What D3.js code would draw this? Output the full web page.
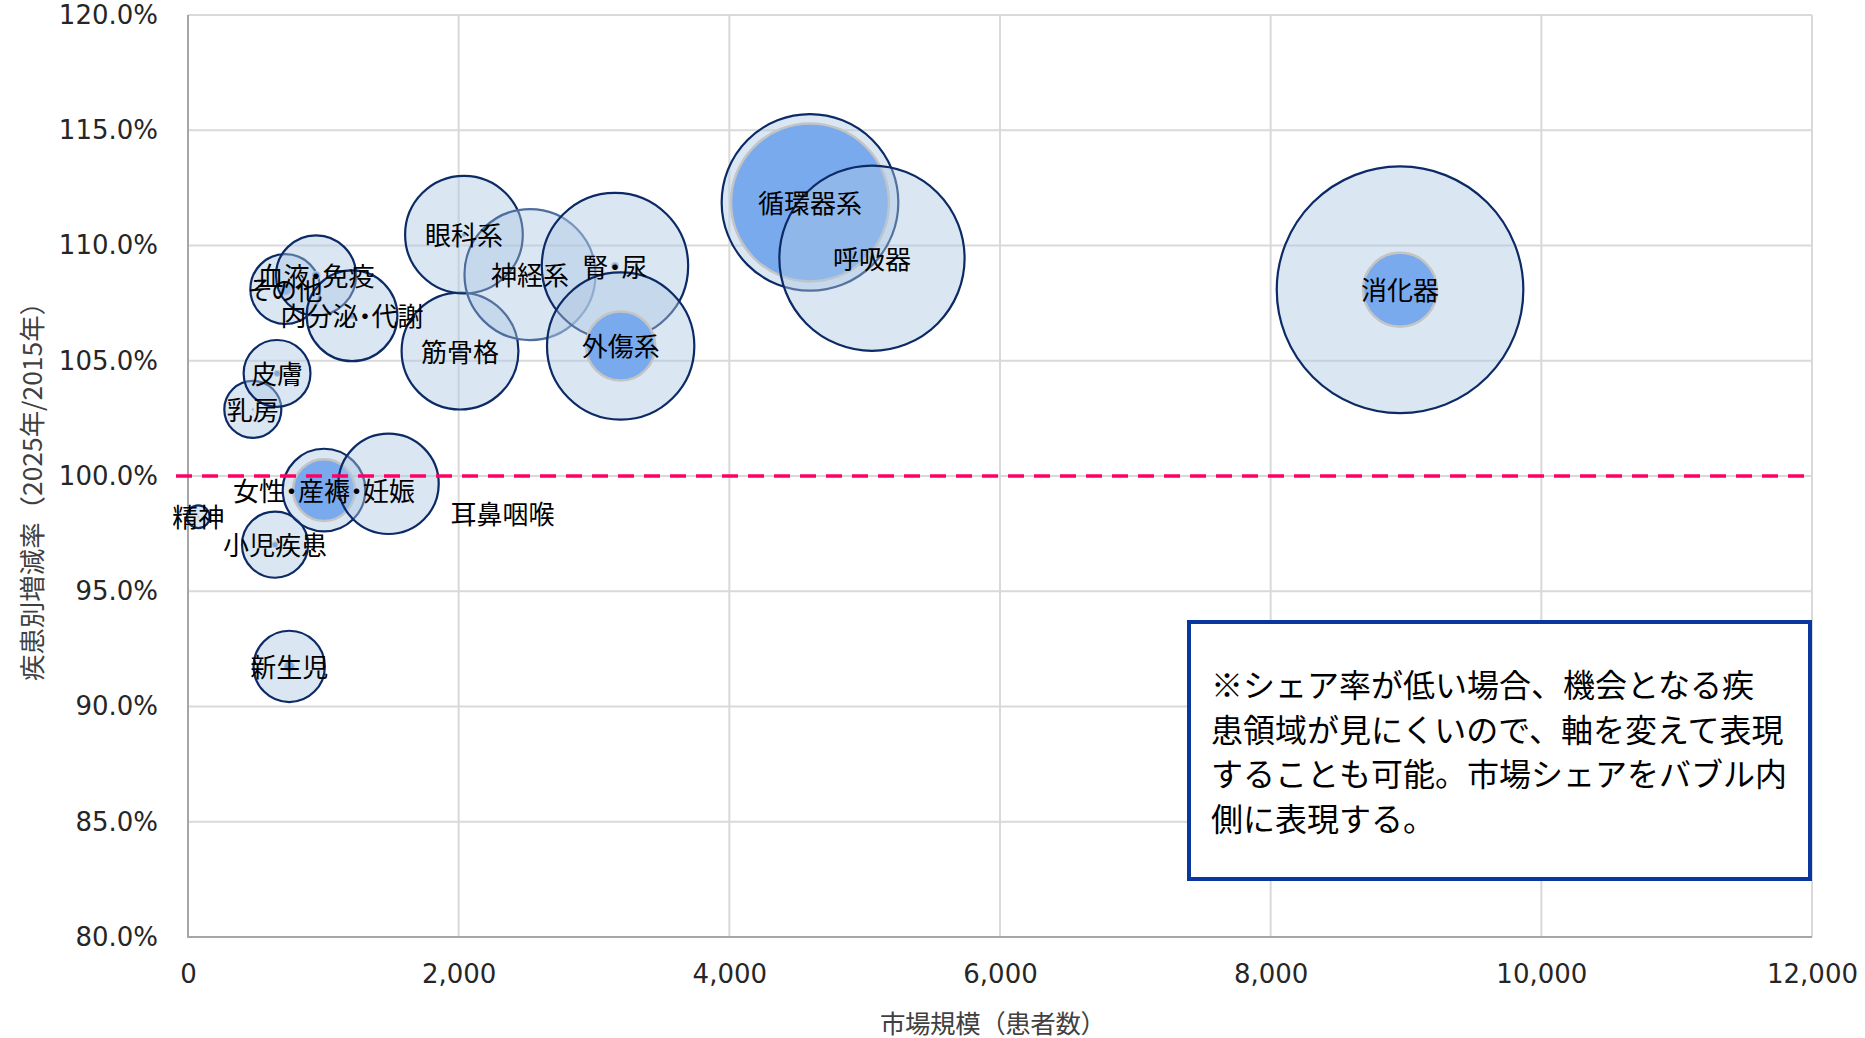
<!DOCTYPE html>
<html>
<head>
<meta charset="utf-8">
<script src="https://cdn.jsdelivr.net/npm/d3@7"></script>
<style>
  html, body { margin: 0; padding: 0; background: #ffffff; }
  svg { display: block; }
  .bubble-label { font-feature-settings: "palt" 1; }
</style>
</head>
<body>
<svg id="chart" width="1865" height="1038"></svg>
<script>
// ---------------- data ----------------
const categories = ["精神","乳房","皮膚","小児疾患","その他","新生児","血液・免疫","女性・産褥・妊娠","内分泌・代謝","耳鼻咽喉","筋骨格","眼科系","神経系","腎・尿","外傷系","循環器系","呼吸器","消化器"];
// market size (patients) -> x and outer bubble size
const marketSize = [76, 479, 658, 643, 719, 748, 946, 1005, 1212, 1482, 2010, 2039, 2527, 3155, 3197, 4596, 5054, 8956];
// growth rate 2025/2015 (%)
const growthRate = [98.23, 102.89, 104.45, 97.02, 108.11, 91.74, 108.70, 99.39, 106.95, 99.66, 105.42, 110.47, 108.74, 109.11, 105.64, 111.87, 109.45, 108.08];
// market share (inner bubble = marketSize x share)
const marketShare = [0.001, 0.001, 0.008, 0.008, 0.03, 0.02, 0.01, 0.56, 0.0044, 0, 0.0026, 0.001, 0.001, 0.0023, 0.22, 0.80, 0.001, 0.09];

const xTicks = [0, 2000, 4000, 6000, 8000, 10000, 12000];
const yTicks = [80, 85, 90, 95, 100, 105, 110, 115, 120];
const referenceLine = 100;

const xTitle = "市場規模（患者数）";
const yTitle = "疾患別増減率（2025年/2015年）";
const noteLines = [
  "※シェア率が低い場合、機会となる疾",
  "患領域が見にくいので、軸を変えて表現",
  "することも可能。市場シェアをバブル内",
  "側に表現する。"
];

// ---------------- layout / style ----------------
const plot = { left: 188, right: 1812, top: 15, bottom: 937 };
const maxRadius = 123.3;
const labelOffsets = { "耳鼻咽喉": [114, 30] };   // manually moved label
const strokeOverrides = { "神経系": "#4d6d9e" };

const svg = d3.select("#chart");

const x = d3.scaleLinear().domain([0, 12000]).range([plot.left, plot.right]);
const y = d3.scaleLinear().domain([80, 120]).range([plot.bottom, plot.top]);
const r = d3.scaleSqrt().domain([0, d3.max(marketSize)]).range([0, maxRadius]);

const data = categories.map((c, i) => ({
  name: c, size: marketSize[i], growth: growthRate[i], share: marketShare[i]
}));

// gridlines
const grid = svg.append("g");
grid.selectAll(".hg").data(yTicks).join("line")
  .attr("x1", plot.left).attr("x2", plot.right)
  .attr("y1", d => y(d)).attr("y2", d => y(d))
  .attr("stroke", "#d9d9d9").attr("stroke-width", 2);
grid.selectAll(".vg").data(xTicks).join("line")
  .attr("x1", d => x(d)).attr("x2", d => x(d))
  .attr("y1", plot.top).attr("y2", plot.bottom)
  .attr("stroke", "#d9d9d9").attr("stroke-width", 2);

// axis lines
svg.append("line").attr("x1", plot.left).attr("x2", plot.left)
  .attr("y1", plot.top).attr("y2", plot.bottom + 1)
  .attr("stroke", "#a6a6a6").attr("stroke-width", 2);
svg.append("line").attr("x1", plot.left - 1).attr("x2", plot.right)
  .attr("y1", plot.bottom).attr("y2", plot.bottom)
  .attr("stroke", "#a6a6a6").attr("stroke-width", 2);

// axes (labels only)
const yAxis = svg.append("g").attr("transform", `translate(${plot.left},0)`)
  .call(d3.axisLeft(y).tickValues(yTicks).tickSize(0).tickPadding(30)
    .tickFormat(d => d.toFixed(1) + "%"));
const xAxis = svg.append("g").attr("transform", `translate(0,${plot.bottom})`)
  .call(d3.axisBottom(x).tickValues(xTicks).tickSize(0).tickPadding(28)
    .tickFormat(d3.format(",")));
[yAxis, xAxis].forEach(a => {
  a.select(".domain").remove();
  a.selectAll("text")
    .attr("font-family", "'DejaVu Sans', Verdana, sans-serif")
    .attr("font-size", 26).attr("fill", "#262626");
});

// bubbles
const bubbles = svg.append("g");
data.forEach(d => {
  const g = bubbles.append("g");
  g.append("circle")
    .attr("cx", x(d.size)).attr("cy", y(d.growth)).attr("r", r(d.size))
    .attr("fill", "#adc7e2").attr("fill-opacity", 0.45)
    .attr("stroke", strokeOverrides[d.name] || "#0c2a66").attr("stroke-width", 2.2);
  if (d.share > 0) {
    g.append("circle")
      .attr("cx", x(d.size)).attr("cy", y(d.growth)).attr("r", r(d.size * d.share))
      .attr("fill", "#79aaee")
      .attr("stroke", "#c4c4c4").attr("stroke-width", d.share > 0.05 ? 2.5 : 1);
  }
});

// reference line at 100%
svg.append("line")
  .attr("x1", plot.left - 12).attr("x2", plot.right)
  .attr("y1", y(referenceLine)).attr("y2", y(referenceLine))
  .attr("stroke", "#ff0066").attr("stroke-width", 3.5)
  .attr("stroke-dasharray", "16,10");

// bubble labels
svg.append("g").selectAll("text").data(data).join("text")
  .attr("class", "bubble-label")
  .attr("x", d => x(d.size) + (labelOffsets[d.name] ? labelOffsets[d.name][0] : 0))
  .attr("y", d => y(d.growth) - 1 + (labelOffsets[d.name] ? labelOffsets[d.name][1] : 0))
  .attr("text-anchor", "middle").attr("dominant-baseline", "central")
  .attr("font-family", "'Noto Sans CJK JP', sans-serif")
  .attr("font-size", 26).attr("fill", "#000")
  .text(d => d.name);

// axis titles
svg.append("text")
  .attr("x", 993).attr("y", 1021)
  .attr("text-anchor", "middle").attr("dominant-baseline", "central")
  .attr("font-family", "'Noto Sans CJK JP', sans-serif")
  .attr("font-size", 25.5).attr("fill", "#404040")
  .attr("textLength", 226).attr("lengthAdjust", "spacing")
  .text(xTitle);
svg.append("text")
  .attr("transform", `translate(30,${485}) rotate(-90)`)
  .attr("text-anchor", "middle").attr("dominant-baseline", "central")
  .attr("font-family", "'Noto Sans CJK JP', sans-serif")
  .attr("font-size", 26).attr("fill", "#404040")
  .attr("textLength", 392).attr("lengthAdjust", "spacingAndGlyphs")
  .text(yTitle);

// annotation box
const box = { x: 1189, y: 622, w: 621, h: 257 };
svg.append("rect")
  .attr("x", box.x).attr("y", box.y).attr("width", box.w).attr("height", box.h)
  .attr("fill", "#ffffff").attr("stroke", "#0a36a0").attr("stroke-width", 4);
svg.append("g").selectAll("text").data(noteLines).join("text")
  .attr("x", 1211).attr("y", (d, i) => 697 + i * 44.5)
  .attr("font-family", "'Noto Sans CJK JP', sans-serif")
  .attr("font-size", 32).attr("fill", "#000")
  .text(d => d);
</script>
</body>
</html>
